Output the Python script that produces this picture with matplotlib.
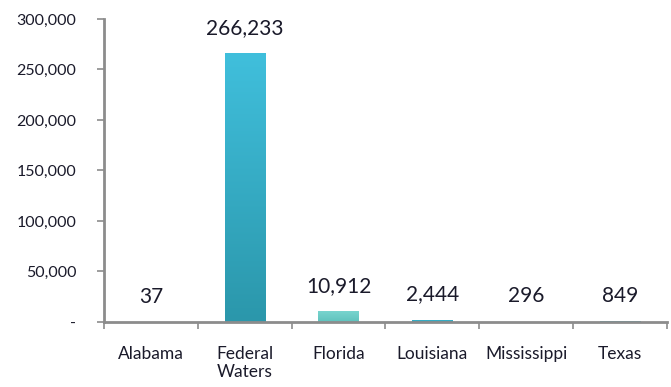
import numpy as np
import matplotlib
matplotlib.use("Agg")
import matplotlib.pyplot as plt
from matplotlib.ticker import FuncFormatter, FixedLocator
from matplotlib.colors import LinearSegmentedColormap

categories = ["Alabama", "Federal\nWaters", "Florida", "Louisiana", "Mississippi", "Texas"]
values = [37, 266233, 10912, 2444, 296, 849]
value_labels = ["37", "266,233", "10,912", "2,444", "296", "849"]
y_ticks = [0, 50000, 100000, 150000, 200000, 250000, 300000]
# top and bottom shade of each bar
bar_top_colors = ["#40bfdc", "#40bfdc", "#7ad6d0", "#40bfdc", "#40bfdc", "#40bfdc"]
bar_bottom_colors = ["#2b97ab", "#2b97ab", "#5fc2bd", "#2b97ab", "#2b97ab", "#2b97ab"]

plt.rcParams["font.family"] = ["Lato", "DejaVu Sans"]

fig = plt.figure(figsize=(6.71, 3.87), dpi=100)
ax = fig.add_axes([0.155, 0.168, 0.839, 0.783])

x = np.arange(len(categories))
bar_w = 0.43
bars = ax.bar(x, values, width=bar_w, color=bar_bottom_colors,
              edgecolor="none", zorder=2)

# vertical shading inside each bar
grad = np.linspace(0, 1, 128)[:, np.newaxis]
for b, ct, cb in zip(bars, bar_top_colors, bar_bottom_colors):
    bx, by = b.get_x(), b.get_y()
    bw, bh = b.get_width(), b.get_height()
    if bh <= 0:
        continue
    cmap = LinearSegmentedColormap.from_list("shade", [cb, ct])
    im = ax.imshow(grad, cmap=cmap, aspect="auto", origin="lower",
                   extent=[bx, bx + bw, by, by + bh], zorder=2.5,
                   interpolation="bicubic")
    im.set_clip_path(b)

ax.set_xlim(-0.5, len(categories) - 0.5)
ax.set_ylim(0, 300000)

for xi, v, lab in zip(x, values, value_labels):
    ax.annotate(lab, (xi, v), xytext=(0, 11), textcoords="offset points",
                ha="center", va="bottom", fontsize=15, color="#1a1a2a")

ax.yaxis.set_major_locator(FixedLocator(y_ticks))
ax.yaxis.set_major_formatter(FuncFormatter(lambda v, p: "-" if v == 0 else f"{int(v):,}"))
ax.tick_params(axis="y", labelsize=11.5, colors="#1a1a2a", length=5, width=1.2,
               color="#8c8c8c", pad=15)
ax.set_xticks(x)
ax.set_xticklabels(categories, fontsize=12.5, color="#1a1a2a", linespacing=1.15)
ax.set_xticks(np.arange(len(categories) + 1) - 0.5, minor=True)
ax.tick_params(axis="x", which="major", length=0, pad=17)
ax.tick_params(axis="x", which="minor", length=5, width=1.2, color="#8c8c8c")

for s in ["top", "right"]:
    ax.spines[s].set_visible(False)
for s in ["left", "bottom"]:
    ax.spines[s].set_color("#8c8c8c")
    ax.spines[s].set_linewidth(2)
    ax.spines[s].set_zorder(3)

fig.savefig("out.png", dpi=100, facecolor="white")
